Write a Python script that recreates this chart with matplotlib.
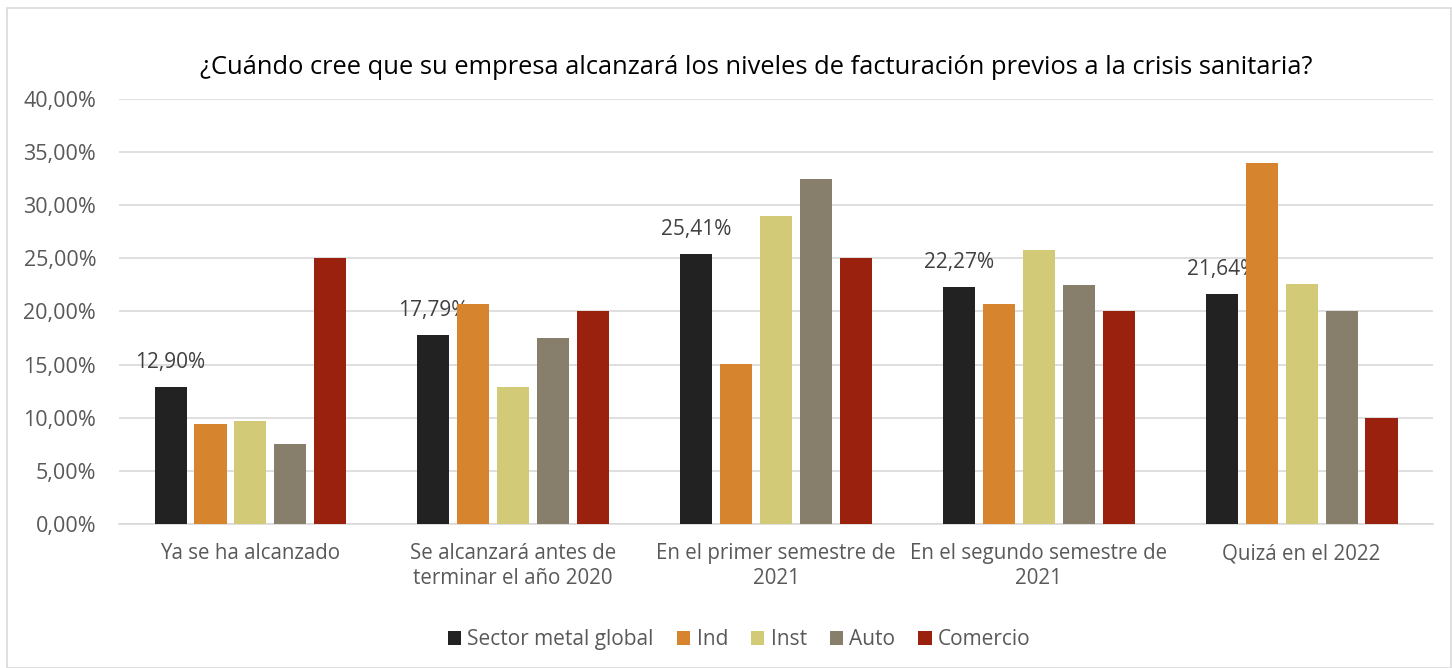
import numpy as np
import matplotlib.pyplot as plt
from matplotlib.patches import Rectangle
from matplotlib.ticker import FuncFormatter

categories = ["Ya se ha alcanzado", "Se alcanzará antes de\nterminar el año 2020",
              "En el primer semestre de\n2021", "En el segundo semestre de\n2021",
              "Quizá en el 2022"]
series = ["Sector metal global", "Ind", "Inst", "Auto", "Comercio"]
global_vals = [12.90, 17.79, 25.41, 22.27, 21.64]
ind_vals = [9.41, 20.75, 15.09, 20.75, 33.96]
inst_vals = [9.68, 12.90, 29.03, 25.81, 22.58]
auto_vals = [7.50, 17.50, 32.50, 22.50, 20.00]
comercio_vals = [25.00, 20.00, 25.00, 20.00, 10.00]
colors = ["#222222", "#D6852E", "#D2CA76", "#877F6C", "#99210D"]

values = [global_vals, ind_vals, inst_vals, auto_vals, comercio_vals]

plt.rcParams['font.family'] = ['Open Sans', 'DejaVu Sans']

fig = plt.figure(figsize=(14.52, 6.68), dpi=100)
ax = fig.add_axes([0.082, 0.2156, 0.9049, 0.6362])

# figure border like the excel chart frame
fig.patches.append(Rectangle((0.005, 0.0), 0.994, 0.988, transform=fig.transFigure,
                             fill=False, edgecolor="#D9D9D9", linewidth=1.2))

x = np.arange(len(categories))
pitch = 0.152
width = 0.122
for i, (name, vals) in enumerate(zip(series, values)):
    pos = x + (i - 2) * pitch
    bars = ax.bar(pos, vals, width, color=colors[i], label=name, zorder=3)
    if i == 0:
        for b, v in zip(bars, vals):
            ax.annotate(("%.2f%%" % v).replace(".", ","),
                        (b.get_x() + b.get_width() / 2, v),
                        xytext=(0, 10), textcoords="offset points",
                        ha="center", va="bottom", fontsize=15, color="#404040")

ax.set_ylim(0, 40)
ax.set_xlim(-0.5, len(categories) - 0.5)
ax.set_yticks(np.arange(0, 41, 5))
ax.yaxis.set_major_formatter(FuncFormatter(lambda v, p: ("%.2f%%" % v).replace(".", ",")))
ax.grid(axis="y", color="#D9D9D9", linewidth=1.2, zorder=0)
ax.set_xticks(x)
ax.set_xticklabels(categories)
for s in ["top", "right", "left"]:
    ax.spines[s].set_visible(False)
ax.spines["bottom"].set_color("#D9D9D9")
ax.spines["bottom"].set_linewidth(1.2)
ax.tick_params(axis="both", length=0, labelcolor="#595959")
ax.tick_params(axis="x", pad=14, labelsize=14.8)
ax.tick_params(axis="y", pad=16.5, labelsize=15.5)

fig.text(0.5207, 0.899, "¿Cuándo cree que su empresa alcanzará los niveles de facturación previos a la crisis sanitaria?",
         ha="center", va="center", fontsize=18.4, color="#000000")

ax.legend(loc="center", bbox_to_anchor=(0.472, -0.272), ncol=5, frameon=False,
          fontsize=15, labelcolor="#595959", handlelength=0.65, handleheight=0.65,
          handletextpad=0.3, columnspacing=1.1)

fig.savefig("out.png", dpi=100)
